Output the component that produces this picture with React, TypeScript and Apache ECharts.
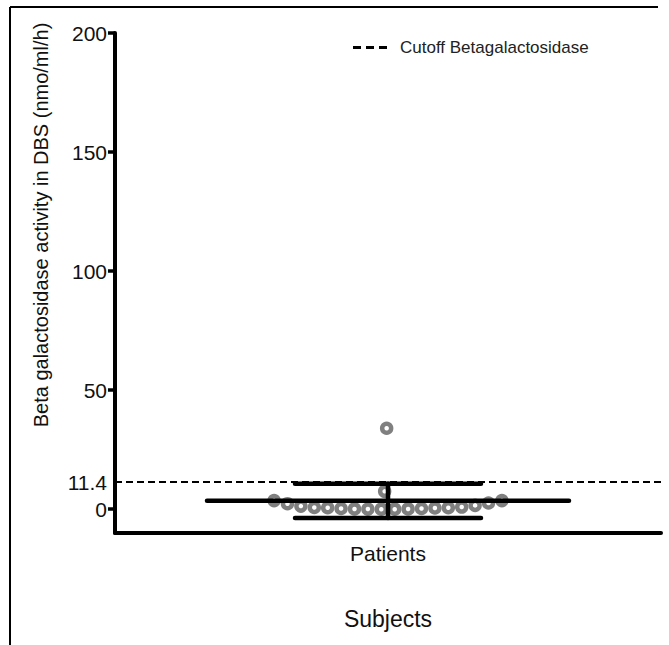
import React, { useEffect, useRef } from "react";
import * as echarts from "echarts";

const categories = ["Patients"];
// horizontal spread of each dot (in dot-widths) and its value
const dotOffsets = [-8.5, -7.5, -6.5, -5.5, -4.5, -3.5, -2.5, -1.5, -0.5, 0.5, 1.5, 2.5, 3.5, 4.5, 5.5, 6.5, 7.5, 8.5, -0.25, -0.1];
const dotValues = [3.6, 2.3, 1.3, 0.7, 0.6, 0.3, 0.1, 0.05, 0, 0, 0.1, 0.3, 0.5, 0.6, 0.9, 1.6, 2.6, 3.6, 7.5, 34];
const meanValue = 3.5;
const sdValue = 7.2;
const cutoffValue = 11.4;
const yLabelValues = [0, 11.4, 50, 100, 150, 200];
const yTickValues = [0, 50, 100, 150, 200];

const SPREAD = 20.37;

export default function App() {
  const ref = useRef<HTMLDivElement>(null);
  useEffect(() => {
    if (!ref.current) return;
    const chart = echarts.init(ref.current, undefined, { renderer: "svg" });
    const font = "'Liberation Sans', Arial, sans-serif";
    chart.setOption({
      animation: false,
      backgroundColor: "#fff",
      textStyle: { fontFamily: font },
      grid: { left: 115, right: 8, top: 33, bottom: 112, containLabel: false },
      legend: {
        left: 348,
        top: 34,
        itemWidth: 34,
        itemHeight: 3,
        itemStyle: { color: "#000", borderWidth: 0 },
        textStyle: { fontSize: 17, color: "#222", fontFamily: font, padding: [0, 0, 0, 8] },
        data: [
          {
            name: "Cutoff Betagalactosidase",
            icon: "path://M0,0h8v3h-8z M13,0h8v3h-8z M26,0h8v3h-8z",
          },
        ],
      },
      xAxis: [
        {
          type: "category",
          data: categories,
          axisLine: { onZero: false, lineStyle: { color: "#000", width: 4 } },
          axisTick: { alignWithLabel: true, length: 7, lineStyle: { color: "#000", width: 3 } },
          axisLabel: { fontSize: 21, color: "#111", margin: 10, fontFamily: font },
          name: "Subjects",
          nameLocation: "middle",
          nameGap: 74,
          nameTextStyle: { fontSize: 23, color: "#111", fontFamily: font },
          splitLine: { show: false },
        },
        {
          type: "value",
          show: false,
          min: -SPREAD,
          max: SPREAD,
          axisLine: { onZero: false },
          splitLine: { show: false },
        },
      ],
      yAxis: {
        type: "value",
        min: -10,
        max: 200,
        axisLine: { show: true, onZero: false, lineStyle: { color: "#000", width: 4 } },
        axisTick: { show: true, customValues: yTickValues, length: 7, lineStyle: { color: "#000", width: 3.5 } },
        axisLabel: {
          customValues: yLabelValues,
          fontSize: 21,
          color: "#111",
          margin: 8,
          fontFamily: font,
          formatter: (v: number) => String(v),
        },
        splitLine: { show: false },
        name: "Beta galactosidase activity in DBS (nmo/ml/h)",
        nameLocation: "middle",
        nameRotate: 90,
        nameGap: 64,
        nameTextStyle: { fontSize: 20, color: "#111", fontFamily: font, padding: [0, 0, 0, 116] },
      },
      series: [
        {
          name: "Cutoff Betagalactosidase",
          type: "line",
          xAxisIndex: 1,
          symbol: "none",
          data: [[-SPREAD, cutoffValue], [SPREAD, cutoffValue]],
          lineStyle: { color: "#000", width: 2, type: [7, 4] },
          itemStyle: { color: "#000" },
          z: 1,
        },
        {
          name: "dots",
          type: "scatter",
          xAxisIndex: 1,
          symbol: "circle",
          symbolSize: 9,
          data: dotOffsets.map((o, i) => [o, dotValues[i]]),
          itemStyle: { color: "#fff", borderColor: "#808080", borderWidth: 4.5, opacity: 1 },
          z: 2,
        },
        {
          name: "meanSD",
          type: "custom",
          xAxisIndex: 0,
          data: [[0, meanValue, sdValue]],
          renderItem: (params: any, api: any) => {
            const x = api.value(0);
            const m = api.value(1);
            const s = api.value(2);
            const c = api.coord([x, m]);
            const t = api.coord([x, m + s]);
            const b = api.coord([x, m - s]);
            const st = { stroke: "#000", lineWidth: 4.5, lineCap: "round" };
            return {
              type: "group",
              children: [
                { type: "line", shape: { x1: c[0] - 181, y1: c[1], x2: c[0] + 181, y2: c[1] }, style: st },
                { type: "line", shape: { x1: c[0] - 93, y1: t[1], x2: c[0] + 93, y2: t[1] }, style: st },
                { type: "line", shape: { x1: c[0] - 93, y1: b[1], x2: c[0] + 93, y2: b[1] }, style: st },
                { type: "line", shape: { x1: c[0], y1: t[1], x2: c[0], y2: b[1] }, style: st },
              ],
            };
          },
          z: 3,
        },
      ],
      graphic: [
        { type: "line", shape: { x1: 10, y1: 7, x2: 10, y2: 645 }, style: { stroke: "#000", lineWidth: 2 } },
        { type: "line", shape: { x1: 10, y1: 7, x2: 658, y2: 7 }, style: { stroke: "#000", lineWidth: 2 } },
      ],
    });
    return () => chart.dispose();
  }, []);
  return (
    <div
      ref={ref}
      style={{ position: "fixed", left: 0, top: 0, width: 669, height: 645, background: "#fff" }}
    />
  );
}
